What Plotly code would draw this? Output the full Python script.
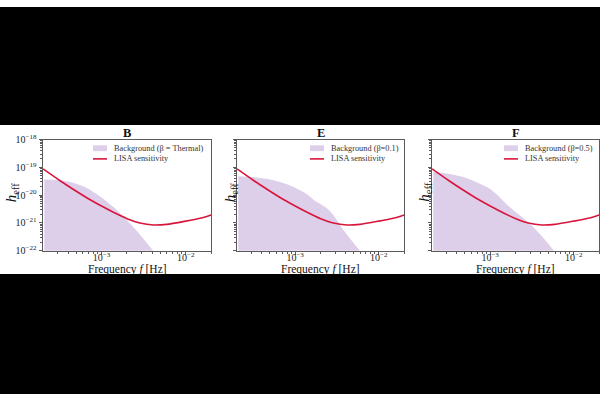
import plotly.graph_objects as go
from plotly.subplots import make_subplots

# ---------------- data (log10 units) ----------------
lisa_logf = [-3.694, -3.496, -3.337, -3.139, -3.0, -2.821, -2.663, -2.544, -2.385, -2.226,
             -2.0, -1.829, -1.710, -1.699]
lisa_logh = [-19.055, -19.472, -19.786, -20.157, -20.388, -20.667, -20.887, -21.003, -21.072,
             -21.049, -20.933, -20.829, -20.725, -20.715]

bgB_logf = [-3.68, -3.496, -3.338, -3.18, -3.0, -2.862, -2.70, -2.544, -2.386]
bgB_logh = [-19.44, -19.46, -19.55, -19.73, -20.08, -20.42, -20.89, -21.41, -22.0]

bgE_logf = [-3.68, -3.496, -3.337, -3.179, -3.0, -2.861, -2.782, -2.643, -2.544, -2.425,
            -2.306, -2.226]
bgE_logh = [-19.32, -19.35, -19.41, -19.53, -19.73, -19.96, -20.16, -20.42, -20.71, -21.24,
            -21.70, -22.0]

bgF_logf = [-3.68, -3.484, -3.285, -3.0, -2.77, -2.493, -2.255, -2.24]
bgF_logh = [-19.17, -19.24, -19.38, -19.78, -20.42, -21.12, -21.93, -22.0]

panel_titles = ["B", "E", "F"]
bg_labels = ["Background (\u03b2 = Thermal)", "Background (\u03b2=0.1)", "Background (\u03b2=0.5)"]
lisa_label = "LISA sensitivity"
x_tickvals = [1e-3, 1e-2]
x_ticktext = ["10<sup>\u22123</sup>", "10<sup>\u22122</sup>"]
y_tickvals = [1e-22, 1e-21, 1e-20, 1e-19, 1e-18]
y_ticktext = ["10<sup>\u221222</sup>", "10<sup>\u221221</sup>", "10<sup>\u221220</sup>",
              "10<sup>\u221219</sup>", "10<sup>\u221218</sup>"]


def unlog(vals):
    return [10 ** v for v in vals]


lisa_f, lisa_h = unlog(lisa_logf), unlog(lisa_logh)
backgrounds = [(unlog(bgB_logf), unlog(bgB_logh)),
               (unlog(bgE_logf), unlog(bgE_logh)),
               (unlog(bgF_logf), unlog(bgF_logh))]

# ---------------- styling ----------------
W, H = 600, 400
FONT = "Liberation Serif"
FILL = "rgba(148,103,189,0.32)"
LINE = "#d8163c"
AX = "#5a5a5a"
x_dom = [(43, 211), (237, 404), (432, 599)]
y_top, y_bot = 137, 252
legend_text_x = [112, 329, 523]   # left edge of legend text, px
legend_rows = [146, 157]


def px(x):
    return x / W


def py(y):
    return 1 - y / H


fig = make_subplots(rows=1, cols=3)

x_minor = [k * d for d in [1e-4, 1e-3, 1e-2] for k in range(2, 10)]
y_minor = [k * d for d in [1e-22, 1e-21, 1e-20, 1e-19] for k in range(2, 10)]

for i in range(3):
    f, h = backgrounds[i]
    fig.add_trace(go.Scatter(x=f, y=h, mode="lines",
                             line=dict(width=0, color=FILL, shape="spline", smoothing=0.8),
                             fill="tozeroy", fillcolor=FILL, name=bg_labels[i],
                             showlegend=False, hoverinfo="skip"), row=1, col=i + 1)
    fig.add_trace(go.Scatter(x=lisa_f, y=lisa_h, mode="lines",
                             line=dict(width=1.6, color=LINE, shape="spline", smoothing=0.7),
                             name=lisa_label, showlegend=False), row=1, col=i + 1)

fig.update_layout(
    width=W, height=H, margin=dict(l=0, r=0, t=0, b=0),
    paper_bgcolor="white", plot_bgcolor="white",
    font=dict(family=FONT, size=10, color="#222222"),
    showlegend=False,
)

for i in range(3):
    xa = "xaxis" if i == 0 else f"xaxis{i+1}"
    ya = "yaxis" if i == 0 else f"yaxis{i+1}"
    x0, x1 = x_dom[i]
    fig.layout[xa].update(
        type="log", range=[-3.695, -1.699], domain=[px(x0), px(x1)],
        showgrid=False, zeroline=False, showline=True, linecolor=AX, linewidth=1, mirror=True,
        ticks="outside", ticklen=3.5, tickcolor=AX, tickvals=x_tickvals, ticktext=x_ticktext,
        tickfont=dict(size=10, family=FONT, color="#222222"), ticklabelstandoff=-6,
        minor=dict(ticks="outside", ticklen=2, tickcolor=AX, tickvals=x_minor, showgrid=False),
    )
    fig.layout[ya].update(
        type="log", range=[-22, -18], domain=[py(y_bot), py(y_top)],
        showgrid=False, zeroline=False, showline=True, linecolor=AX, linewidth=1, mirror=True,
        ticks="outside", ticklen=3.5, tickcolor=AX, tickvals=y_tickvals,
        ticktext=y_ticktext, showticklabels=(i == 0),
        tickfont=dict(size=10, family=FONT, color="#222222"),
        minor=dict(ticks="outside", ticklen=2, tickcolor=AX, tickvals=y_minor, showgrid=False),
    )
    # panel title
    fig.add_annotation(x=px((x0 + x1) / 2), y=py(130), xref="paper", yref="paper",
                       text="<b>" + panel_titles[i] + "</b>", showarrow=False,
                       font=dict(size=12.5, family=FONT, color="#111111"),
                       xanchor="center", yanchor="middle")
    # x label
    fig.add_annotation(x=px((x0 + x1) / 2), y=py(271), xref="paper", yref="paper",
                       text="Frequency <i>f</i> [Hz]", showarrow=False,
                       font=dict(size=11.5, family=FONT, color="#111111"),
                       xanchor="center", yanchor="middle")
    # y label
    ylx = [11.5, 230.5, 425][i]
    fig.add_annotation(x=px(ylx), y=py(192), xref="paper", yref="paper",
                       text="<i>h</i><sub>eff</sub>", textangle=-90, showarrow=False,
                       font=dict(size=15, family=FONT, color="#111111"),
                       xanchor="center", yanchor="middle")
    # legend (drawn by hand so rows sit close as in the reference)
    tx = legend_text_x[i]
    fig.add_shape(type="rect", xref="paper", yref="paper",
                  x0=px(tx - 19), x1=px(tx - 5), y0=py(legend_rows[0] + 3), y1=py(legend_rows[0] - 3),
                  fillcolor=FILL, line=dict(width=0))
    fig.add_shape(type="line", xref="paper", yref="paper",
                  x0=px(tx - 19), x1=px(tx - 5), y0=py(legend_rows[1]), y1=py(legend_rows[1]),
                  line=dict(color=LINE, width=1.6))
    for row, txt in zip(legend_rows, [bg_labels[i], lisa_label]):
        fig.add_annotation(x=px(tx), y=py(row), xref="paper", yref="paper", text=txt,
                           showarrow=False, xanchor="left", yanchor="middle",
                           font=dict(size=8.3, family=FONT, color="#333333"))

# black bands above and below the figure
fig.add_shape(type="rect", xref="paper", yref="paper", x0=0, x1=1, y0=py(122), y1=1,
              fillcolor="black", line=dict(width=0), layer="below")
fig.add_shape(type="rect", xref="paper", yref="paper", x0=0, x1=1, y0=0, y1=py(276),
              fillcolor="black", line=dict(width=0), layer="below")

fig.write_html("out.html")
